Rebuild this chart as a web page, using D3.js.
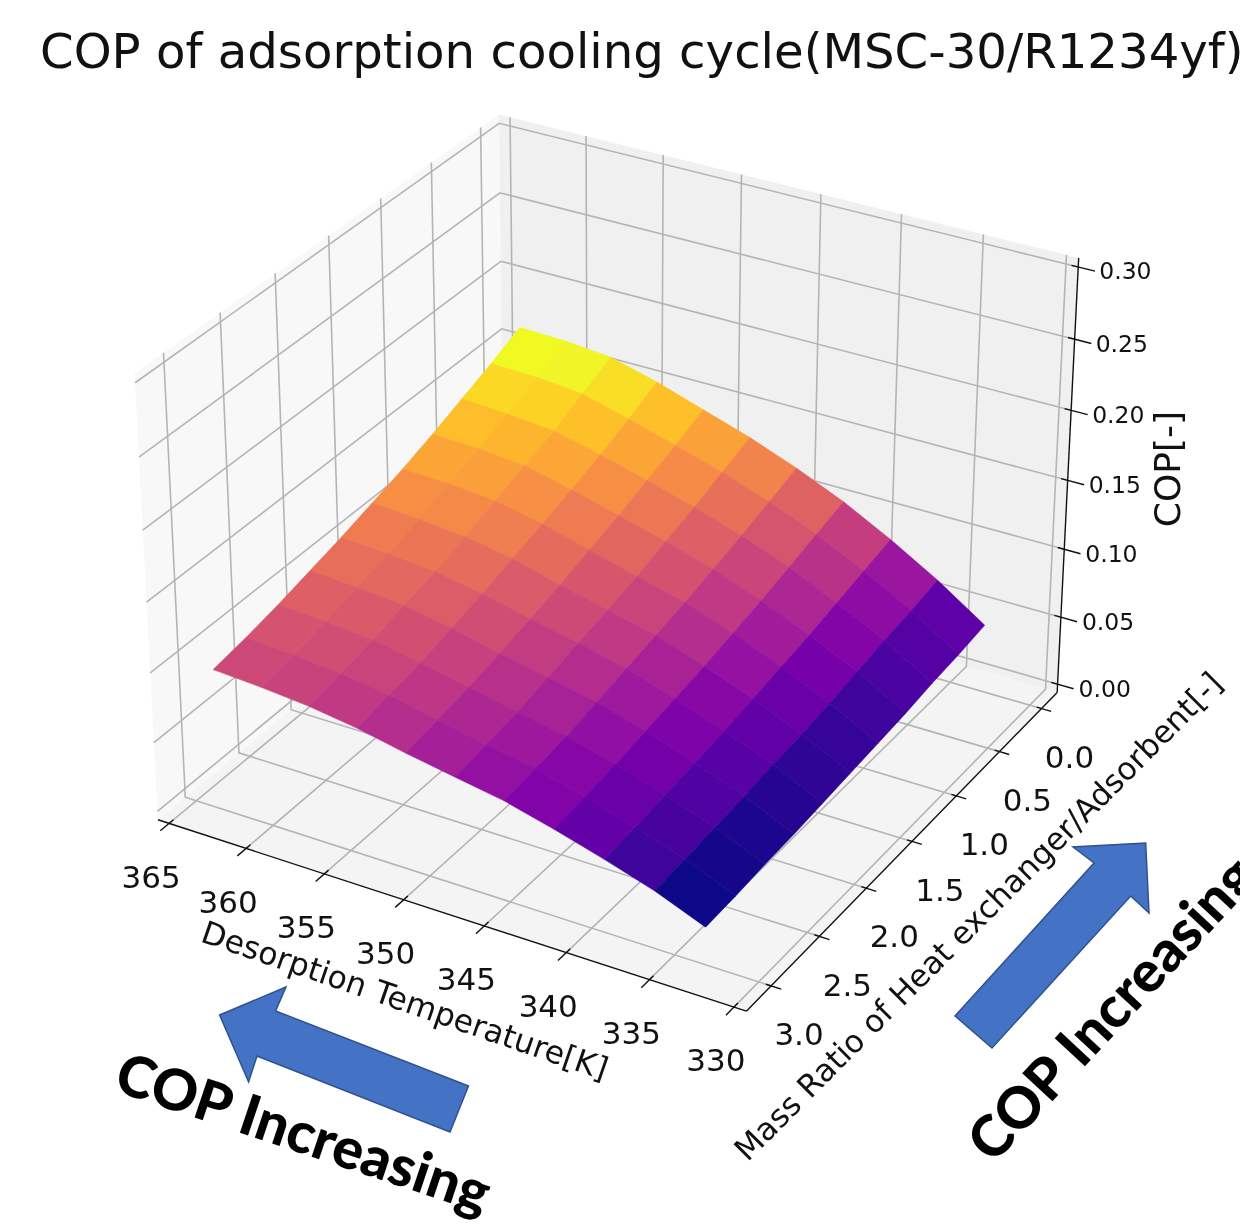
<!DOCTYPE html>
<html lang="en">
<head>
<meta charset="utf-8">
<title>COP of adsorption cooling cycle</title>
<style>
  html, body { margin: 0; padding: 0; background: #fff; }
  svg { display: block; overflow: hidden; }
  text { font-family: "DejaVu Sans", sans-serif; fill: #111; }
  .note { font-family: "Lato", sans-serif; font-weight: 900; fill: #000; }
  .soft { filter: blur(0.5px); }
</style>
<script src="https://cdn.jsdelivr.net/npm/d3@7/dist/d3.min.js"></script>
</head>
<body>
<svg id="chart" width="1240" height="1230"></svg>
<script>
// grid of the surface
var desorptionTemp = [332, 335, 338, 341, 344, 347, 350, 353, 356, 359, 362];
var massRatio = [0.2, 0.5, 0.8, 1.1, 1.4, 1.7, 2.0, 2.3, 2.6, 2.9, 3.2];

// COP, one row per temperature, one column per mass ratio
var cop332 = [.059, .056, .054, .051, .049, .047, .045, .043, .042, .040, .039];
var cop335 = [.082, .078, .075, .071, .067, .064, .062, .059, .057, .055, .053];
var cop338 = [.102, .097, .092, .087, .083, .079, .075, .072, .069, .066, .064];
var cop341 = [.120, .114, .108, .102, .097, .092, .088, .084, .080, .077, .074];
var cop344 = [.135, .128, .121, .115, .109, .104, .099, .094, .089, .086, .083];
var cop347 = [.148, .140, .132, .125, .118, .112, .107, .101, .096, .092, .089];
var cop350 = [.159, .150, .142, .134, .127, .120, .114, .108, .103, .099, .095];
var cop353 = [.170, .160, .151, .143, .136, .129, .122, .116, .110, .106, .102];
var cop356 = [.179, .169, .159, .151, .143, .135, .128, .122, .116, .111, .107];
var cop359 = [.182, .172, .162, .154, .146, .138, .131, .125, .119, .114, .110];
var cop362 = [.183, .173, .164, .155, .147, .140, .133, .127, .121, .116, .112];
var copRows = [cop332, cop335, cop338, cop341, cop344, cop347, cop350, cop353, cop356, cop359, cop362];

// tick labels
var tempTicks = [330, 335, 340, 345, 350, 355, 360, 365];
var ratioTicks = [0, 0.5, 1, 1.5, 2, 2.5, 3];
var copTicks = [0, 0.05, 0.10, 0.15, 0.20, 0.25, 0.30];

// axis limits
var tempLim = [329.27, 365.73], ratioLim = [-0.19, 3.25], copLim = [-0.00625, 0.30625];

var svg = d3.select("#chart");
var plot = svg.append("g").attr("class", "soft");

// data -> camera cube
var halfXY = 0.7, halfZ = 0.535;
var cx = d3.scaleLinear().domain(tempLim).range([-halfXY, halfXY]);
var cy = d3.scaleLinear().domain(ratioLim).range([-halfXY, halfXY]);
var cz = d3.scaleLinear().domain(copLim).range([-halfZ, halfZ]);

// camera: elev 30, azim 120, dist 11
var elev = 30 * Math.PI / 180, azim = 120 * Math.PI / 180, dist = 11;
var w = [Math.cos(elev) * Math.cos(azim), Math.cos(elev) * Math.sin(azim), Math.sin(elev)];
var uLen = Math.hypot(w[0], w[1]);
var u = [-w[1] / uLen, w[0] / uLen, 0];
var v = [w[1] * u[2] - w[2] * u[1], w[2] * u[0] - w[0] * u[2], w[0] * u[1] - w[1] * u[0]];
var dot = function(a, b) { return a[0] * b[0] + a[1] * b[1] + a[2] * b[2]; };

// camera plane -> pixels
var screenX = d3.scaleLinear().domain([0, 1]).range([616.4, 616.4 + 5296]);
var screenY = d3.scaleLinear().domain([0, 1]).range([540, 540 - 5225]);

function project(t, m, c) {
  var p = [cx(t), cy(m), cz(c)];
  var d = dist - dot(w, p);
  return [screenX(dot(u, p) / d), screenY(dot(v, p) / d), d];
}
var line = d3.line();
function path3(pts) {
  return line(pts.map(function(p) { return project(p[0], p[1], p[2]).slice(0, 2); }));
}

var tLo = tempLim[0], tHi = tempLim[1], mLo = ratioLim[0], mHi = ratioLim[1], zLo = copLim[0], zHi = copLim[1];

// panes
plot.append("path").attr("fill", "#f8f8f8")
  .attr("d", path3([[tHi, mLo, zLo], [tHi, mHi, zLo], [tHi, mHi, zHi], [tHi, mLo, zHi]]) + "Z");
plot.append("path").attr("fill", "#f0f0f0")
  .attr("d", path3([[tLo, mLo, zLo], [tHi, mLo, zLo], [tHi, mLo, zHi], [tLo, mLo, zHi]]) + "Z");
plot.append("path").attr("fill", "#f4f4f4")
  .attr("d", path3([[tLo, mLo, zLo], [tHi, mLo, zLo], [tHi, mHi, zLo], [tLo, mHi, zLo]]) + "Z");

// grid lines
var gridPaths = [];
tempTicks.forEach(function(t) { gridPaths.push([[t, mHi, zLo], [t, mLo, zLo], [t, mLo, zHi]]); });
ratioTicks.forEach(function(m) { gridPaths.push([[tLo, m, zLo], [tHi, m, zLo], [tHi, m, zHi]]); });
copTicks.forEach(function(c) { gridPaths.push([[tHi, mHi, c], [tHi, mLo, c], [tLo, mLo, c]]); });
plot.append("g").selectAll("path").data(gridPaths).enter().append("path")
  .attr("d", path3).attr("fill", "none").attr("stroke", "#b4b4b4").attr("stroke-width", 1.6);

// axis lines
var axisPaths = [[[tHi, mHi, zLo], [tLo, mHi, zLo]], [[tLo, mHi, zLo], [tLo, mLo, zLo]], [[tLo, mLo, zLo], [tLo, mLo, zHi]]];
plot.append("g").selectAll("path").data(axisPaths).enter().append("path")
  .attr("d", path3).attr("fill", "none").attr("stroke", "#111").attr("stroke-width", 1.4);

// tick marks cross the axis line
var tickPaths = [];
tempTicks.forEach(function(t) { tickPaths.push([[t, mHi - 0.04, zLo], [t, mHi + 0.08, zLo]]); });
ratioTicks.forEach(function(m) { tickPaths.push([[tLo + 0.3, m, zLo], [tLo - 0.6, m, zLo]]); });
copTicks.forEach(function(c) { tickPaths.push([[tLo + 0.4, mLo, c], [tLo - 1.0, mLo, c]]); });
plot.append("g").selectAll("path").data(tickPaths).enter().append("path")
  .attr("d", path3).attr("fill", "none").attr("stroke", "#111").attr("stroke-width", 1.4);

// surface cells, coloured by the mean of their corners, far cells first
var cells = [];
d3.range(desorptionTemp.length - 1).forEach(function(i) {
  d3.range(massRatio.length - 1).forEach(function(j) {
    var corners = [[i, j], [i + 1, j], [i + 1, j + 1], [i, j + 1]].map(function(k) {
      return [desorptionTemp[k[0]], massRatio[k[1]], copRows[k[0]][k[1]]];
    });
    cells.push({
      corners: corners,
      mean: d3.mean(corners, function(c) { return c[2]; }),
      depth: d3.mean(corners, function(c) { return project(c[0], c[1], c[2])[2]; })
    });
  });
});
cells.sort(function(a, b) { return b.depth - a.depth; });
var colour = d3.scaleSequential(d3.interpolatePlasma).domain(d3.extent(cells, function(c) { return c.mean; }));
plot.append("g").selectAll("path").data(cells).enter().append("path")
  .attr("d", function(c) { return path3(c.corners) + "Z"; })
  .attr("fill", function(c) { return colour(c.mean); })
  .attr("stroke", function(c) { return colour(c.mean); })
  .attr("stroke-width", 0.6);

// tick labels
var labels = svg.append("g").attr("class", "soft");
labels.selectAll(".tt").data(tempTicks).enter().append("text").attr("class", "tt")
  .attr("x", function(t) { return project(t, mHi, zLo)[0] - 18; })
  .attr("y", function(t) { return project(t, mHi, zLo)[1] + 53; })
  .attr("dy", ".36em").attr("text-anchor", "middle").attr("font-size", 31)
  .text(function(t) { return t; });
labels.selectAll(".rt").data(ratioTicks).enter().append("text").attr("class", "rt")
  .attr("x", function(m) { return project(tLo, m, zLo)[0] + 28; })
  .attr("y", function(m) { return project(tLo, m, zLo)[1] + 48; })
  .attr("dy", ".36em").attr("text-anchor", "middle").attr("font-size", 31)
  .text(function(m) { return m.toFixed(1); });
labels.selectAll(".ct").data(copTicks).enter().append("text").attr("class", "ct")
  .attr("x", function(c) { return project(tLo, mLo, c)[0] + 21; })
  .attr("y", function(c) { return project(tLo, mLo, c)[1] + 4; })
  .attr("dy", ".36em").attr("font-size", 23.5)
  .text(function(c) { return c.toFixed(2); });

// titles
labels.append("text").attr("x", 40).attr("y", 68).attr("font-size", 48.2)
  .text("COP of adsorption cooling cycle(MSC-30/R1234yf)");
labels.append("text").attr("text-anchor", "middle").attr("font-size", 31.5)
  .attr("transform", "translate(405,1000) rotate(19)").attr("dy", ".36em")
  .text("Desorption Temperature[K]");
labels.append("text").attr("text-anchor", "middle").attr("font-size", 31.3)
  .attr("transform", "translate(978,916) rotate(-45)").attr("dy", ".36em")
  .text("Mass Ratio of Heat exchanger/Adsorbent[-]");
labels.append("text").attr("text-anchor", "middle").attr("font-size", 36)
  .attr("transform", "translate(1167,469) rotate(-90)").attr("dy", ".36em")
  .text("COP[-]");

// hand drawn arrows of the original slide
var arrowLeft = [[219.6, 1015], [286, 987], [275.6, 1011], [468.5, 1086], [450, 1132], [257, 1056], [248.6, 1082]];
var arrowRight = [[955, 1016], [992, 1048], [1130.7, 896], [1149, 913], [1145.7, 843], [1073, 847], [1094, 863]];
svg.append("g").selectAll("path").data([arrowLeft, arrowRight]).enter().append("path")
  .attr("d", function(p) { return line(p) + "Z"; })
  .attr("fill", "#4472c4").attr("stroke", "#2f528f").attr("stroke-width", 1.5);

svg.append("text").attr("class", "note").attr("font-size", 57)
  .attr("transform", "translate(112,1090) rotate(18.5)").text("COP Increasing");
svg.append("text").attr("class", "note").attr("font-size", 57)
  .attr("transform", "translate(993,1165) rotate(-47)").text("COP Increasing");
</script>
</body>
</html>
